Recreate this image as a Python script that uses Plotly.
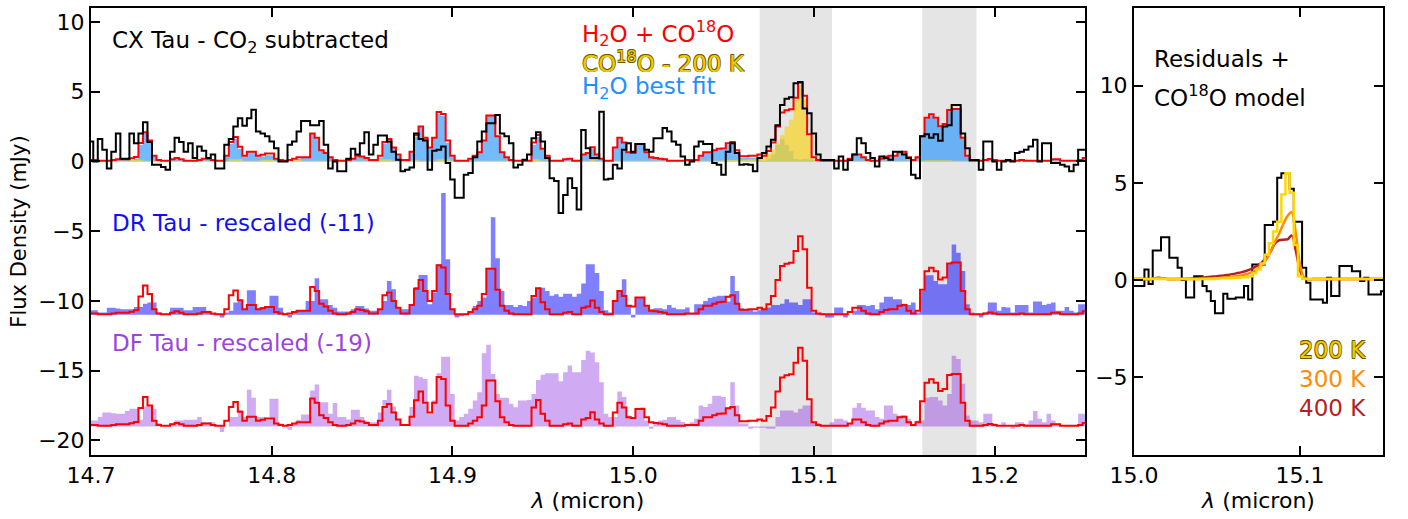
import numpy as np
import plotly.graph_objects as go

# ---------------- data ----------------
# wavelength grid of the spectra (micron)
wavelength = np.round(14.7 + 0.0025 * np.arange(221), 5)

# CX Tau, CO2 subtracted (mJy)
cx_tau = [
    1.43, 0.0, 1.6, 0.83, -0.5, 0.7, 2.0, 0.2, 0.2, 2.0,
    1.3, 2.0, 2.8, 1.4, -0.24, -0.24, -0.4, -0.6, 0.7, 1.7,
    1.4, 0.7, 1.3, 0.24, 1.07, 0.76, 0.24, 0.5, -0.5, -0.5,
    1.2, 1.6, 2.5, 3.1, 2.55, 3.1, 3.7, 2.14, 2.0, 1.8,
    1.43, 0.95, 0.0, 0.0, 1.2, 1.43, 2.14, 2.9, 2.9, 2.6,
    2.6, 2.9, 1.2, -0.5, 0.0, -0.7, -0.7, 0.2, 0.9, 0.5,
    1.3, 2.1, 0.5, 1.2, 1.86, 1.86, 1.43, 0.7, 0.12, -0.7,
    -0.6, -0.43, 2.0, 1.6, 1.5, -0.6, 0.76, 0.83, 1.07, -0.12,
    -1.3, -2.6, -2.6, -0.95, -0.83, 0.3, 1.43, 2.14, 2.74, 2.74,
    3.33, 2.0, 1.8, 1.3, -0.43, -0.24, 0.12, 0.5, 1.67, 2.1,
    1.43, 0.24, -1.2, -1.4, -3.7, -2.4, -1.2, -1.9, -3.45, 2.26,
    0.95, 0.24, 0.24, 3.57, -1.3, -1.24, -0.24, -0.5, 0.83, 1.3,
    0.7, 1.24, 1.24, 0.83, 0.7, 1.67, 1.67, 2.4, 2.14, 1.43,
    1.2, 0.36, -0.24, 0.0, 1.07, 1.43, 1.24, 1.24, -0.12, -0.24,
    -0.95, 0.7, 1.3, 0.6, -0.24, -0.2, -0.24, -0.7, 0.24, 0.6,
    1.07, 1.55, 2.6, 4.05, 4.5, 4.6, 5.6, 5.7, 3.8, 3.45,
    2.0, 0.5, 0.1, 0.1, 0.1, -0.5, 0.36, -0.6, 0.1, 0.5,
    1.67, 1.3, 0.6, 0.24, -0.36, 0.36, 0.24, 0.12, 0.7, 0.7,
    0.5, 0.24, -0.95, -1.2, 1.8, 1.95, 1.7, 1.95, 1.48, 2.5,
    2.6, 4.05, 4.05, 2.0, 0.95, 0.1, 0.1, -0.6, 1.43, 1.43,
    0.0, -0.6, 0.0, 0.1, 0.0, 0.6, 0.7, 0.83, 1.07, 1.55,
    0.0, 1.3, 1.3, -0.12, -0.12, -0.24, -0.36, -0.7, -0.24, 0.83, 0.83,
]

# H2O best-fit slab model (mJy)
h2o_model = [
    0.05, 0.05, 0.0, 0.0, 0.0, 0.05, 0.1, 0.1, 0.1, 0.1,
    0.2, 1.2, 2.05, 1.45, 0.35, 0.05, 0.0, 0.0, 0.1, 0.2,
    0.1, 0.0, 0.0, 0.0, 0.05, 0.15, 0.15, 0.05, 0.0, 0.0,
    0.35, 1.25, 1.6, 0.9, 0.35, 0.65, 0.65, 0.35, 0.35, 0.45,
    0.45, 0.15, 0.05, 0.0, 0.0, 0.1, 0.2, 0.25, 0.25, 1.95,
    1.65, 0.75, 0.55, 0.25, 0.05, 0.0, 0.0, 0.05, 0.15, 0.35,
    0.3, 0.2, 0.05, 0.05, 0.25, 1.25, 1.45, 0.95, 0.45, 0.05,
    0.05, 0.65, 1.75, 2.45, 1.65, 0.95, 1.65, 3.4, 3.25, 1.35,
    0.35, 0.0, 0.0, 0.0, 0.15, 0.35, 0.6, 1.45, 3.25, 3.25,
    1.75, 0.6, 0.25, 0.05, 0.0, 0.0, 0.0, 0.0, 1.2, 1.75,
    0.85, 0.35, 0.0, 0.0, 0.0, 0.1, 0.15, 0.0, 0.0, 0.45,
    0.55, 0.9, 0.45, 0.15, 0.0, 0.0, 0.95, 1.65, 1.3, 0.6,
    0.55, 1.2, 1.2, 0.6, 0.25, 0.2, 0.15, 0.1, 0.0, 0.0,
    0.0, 0.0, 0.05, 0.05, 0.05, 0.35, 0.6, 0.6, 0.75, 0.85,
    0.85, 1.2, 1.3, 0.7, 0.25, 0.25, 0.25, 0.25, 0.3, 0.05,
    0.2, 0.5, 1.2, 1.6, 1.17, 0.74, 0.17, 0.14, 0.2, 0.15,
    0.1, 0.05, 0.0, 0.0, 0.0, 0.0, 0.0, 0.0, 0.15, 0.45,
    0.45, 0.25, 0.05, 0.0, 0.0, 0.15, 0.3, 0.35, 0.35, 0.6,
    0.65, 0.25, 0.05, 0.25, 1.75, 3.05, 3.3, 3.05, 2.45, 2.6,
    3.6, 3.7, 3.7, 1.65, 0.35, 0.0, 0.0, 0.0, 0.05, 0.12,
    0.05, 0.0, 0.0, 0.0, 0.0, 0.0, 0.05, 0.0, 0.0, 0.0,
    0.0, 0.0, 0.0, 0.1, 0.1, 0.0, 0.0, 0.0, 0.0, 0.05, 0.2,
]

# CO18O slab model, 200 K (mJy)
co18o_200K = [
    0.05, 0.05, 0.05, 0.05, 0.05, 0.05, 0.05, 0.05, 0.05, 0.12,
    0.12, 0.12, 0.05, 0.05, 0.05, 0.05, 0.05, 0.05, 0.05, 0.05,
    0.05, 0.05, 0.05, 0.05, 0.05, 0.05, 0.05, 0.05, 0.05, 0.05,
    0.05, 0.15, 0.15, 0.15, 0.05, 0.05, 0.05, 0.05, 0.12, 0.12,
    0.12, 0.05, 0.05, 0.05, 0.1, 0.1, 0.1, 0.05, 0.05, 0.05,
    0.05, 0.05, 0.05, 0.05, 0.05, 0.05, 0.05, 0.05, 0.05, 0.05,
    0.05, 0.05, 0.05, 0.05, 0.15, 0.15, 0.15, 0.05, 0.05, 0.05,
    0.05, 0.05, 0.12, 0.05, 0.05, 0.05, 0.05, 0.15, 0.15, 0.15,
    0.05, 0.05, 0.05, 0.05, 0.05, 0.05, 0.05, 0.05, 0.05, 0.05,
    0.05, 0.05, 0.05, 0.05, 0.05, 0.05, 0.05, 0.05, 0.15, 0.15,
    0.05, 0.05, 0.05, 0.05, 0.05, 0.05, 0.05, 0.05, 0.05, 0.05,
    0.05, 0.12, 0.05, 0.05, 0.05, 0.05, 0.05, 0.05, 0.05, 0.05,
    0.05, 0.05, 0.05, 0.05, 0.05, 0.05, 0.05, 0.05, 0.05, 0.05,
    0.05, 0.05, 0.05, 0.05, 0.05, 0.05, 0.05, 0.05, 0.05, 0.05,
    0.08, 0.1, 0.1, 0.1, 0.12, 0.12, 0.15, 0.15, 0.2, 0.35,
    0.55, 0.85, 1.3, 1.9, 2.5, 3.0, 4.4, 5.5, 4.5, 1.8,
    0.2, 0.05, 0.05, 0.05, 0.05, 0.05, 0.05, 0.05, 0.05, 0.05,
    0.05, 0.05, 0.05, 0.05, 0.05, 0.05, 0.05, 0.05, 0.05, 0.05,
    0.05, 0.05, 0.05, 0.05, 0.05, 0.08, 0.08, 0.08, 0.08, 0.08,
    0.08, 0.05, 0.05, 0.05, 0.05, 0.05, 0.05, 0.05, 0.05, 0.05,
    0.05, 0.05, 0.05, 0.05, 0.05, 0.05, 0.05, 0.05, 0.05, 0.05,
    0.05, 0.05, 0.05, 0.05, 0.05, 0.05, 0.05, 0.05, 0.05, 0.05, 0.05,
]

# DR Tau spectrum, rescaled (mJy, before the -11 offset)
dr_tau = [
    0.33, 0.33, 0.17, 0.17, 0.5, 0.5, 0.45, 0.4, 0.4, 0.4,
    0.57, 0.57, 0.8, 0.88, 0.88, 0.17, 0.1, 0.1, 0.5, 0.5,
    0.5, 0.33, 0.33, 0.57, 0.57, 0.57, 0.3, 0.1, 0.1, -0.2,
    0.17, 0.3, 0.88, 1.0, 0.4, 1.76, 1.76, 0.4, 0.57, 0.57,
    1.36, 1.36, 0.5, 0.1, -0.2, 0.2, 0.3, 0.3, 1.0, 1.0,
    2.62, 1.12, 1.12, 0.7, 0.5, 0.24, 0.24, 0.24, 0.4, 0.64,
    0.64, 0.45, 0.3, 0.3, 0.4, 1.0, 2.43, 1.83, 0.5, 0.4,
    0.4, 0.64, 2.0, 2.86, 2.86, 0.76, 1.6, 3.62, 8.74, 3.98,
    0.4, -0.2, -0.1, 0.1, 0.17, 0.64, 1.0, 1.24, 3.38, 7.0,
    4.05, 1.7, 0.7, 0.7, 0.57, 0.7, 0.64, 1.0, 1.24, 1.95,
    1.95, 1.7, 1.36, 1.48, 1.3, 1.52, 1.52, 1.29, 1.52, 2.24,
    3.62, 3.62, 3.0, 1.7, 0.33, 0.17, 1.0, 1.7, 2.55, 0.64,
    -0.2, 1.24, 1.24, 0.64, 0.4, 0.48, 0.48, 0.4, 0.7, 0.5,
    0.4, 0.4, 0.52, 0.1, 0.76, 0.76, 1.0, 1.2, 1.29, 1.36,
    1.36, 0.95, 2.79, 1.7, 0.48, 0.4, 0.4, 0.24, 0.33, 0.4,
    0.52, 0.7, 0.7, 0.8, 1.12, 0.88, 0.88, 0.7, 1.12, 1.12,
    0.17, 0.1, 0.1, -0.2, -0.2, 0.52, 0.52, -0.2, 0.0, 0.3,
    0.7, 0.7, 0.64, 0.7, 0.4, 0.88, 1.29, 1.29, 1.12, 1.12,
    0.8, 0.7, 0.88, 0.17, 1.7, 2.83, 2.83, 2.43, 2.19, 2.19,
    3.62, 5.05, 4.45, 3.14, 0.76, 0.17, 0.1, -0.2, 0.17, 0.88,
    0.88, 0.3, 0.57, 0.52, 0.17, 0.7, 0.7, 0.7, 0.17, 0.95,
    0.95, 0.7, 0.8, 0.88, 0.3, 0.3, 0.57, 0.3, 0.17, 0.76, 0.76,
]

# DF Tau spectrum, rescaled (mJy, before the -19 offset)
df_tau = [
    0.43, 0.43, 0.67, 1.0, 1.0, 0.95, 0.9, 0.9, 1.1, 1.26,
    1.26, 0.48, 1.43, 1.43, 1.26, 0.24, 0.0, 0.0, 0.2, 0.43,
    0.43, 0.48, 0.48, 0.48, 0.67, 0.3, 0.3, 0.3, 0.0, -0.4,
    0.0, 0.67, 0.67, 1.19, 0.67, 2.62, 2.05, 0.67, 0.67, 0.48,
    1.98, 1.98, 0.2, 0.0, -0.24, 0.2, 0.48, 0.86, 0.86, 2.57,
    3.0, 1.74, 1.74, 0.9, 1.67, 0.67, 0.67, 0.5, 1.19, 1.19,
    0.67, 0.4, 0.3, 0.3, 1.0, 1.9, 2.62, 1.43, 0.48, 0.0,
    0.0, 1.4, 3.64, 3.52, 3.4, 0.9, 1.86, 3.81, 5.0, 5.0,
    2.33, 0.43, 0.67, 0.9, 1.26, 1.86, 2.45, 5.24, 5.86, 3.76,
    2.33, 2.05, 2.05, 1.62, 1.38, 1.86, 1.86, 1.9, 2.33, 3.33,
    3.71, 3.81, 3.81, 3.81, 3.24, 3.88, 4.36, 3.88, 3.88, 4.76,
    5.43, 5.3, 4.6, 3.17, 0.9, 0.67, 0.67, 2.5, 2.1, 0.79,
    0.67, 1.26, 1.38, 0.43, -0.17, 0.2, 0.43, 0.48, 0.67, 0.67,
    0.48, 0.31, 0.19, 0.3, 0.55, 1.5, 1.4, 1.62, 2.2, 2.2,
    2.1, 1.38, 3.17, 1.5, 0.2, 0.2, -0.17, -0.1, -0.1, -0.1,
    -0.17, -0.17, 0.67, 1.14, 1.14, 1.14, 1.0, 1.26, 1.5, 1.5,
    0.24, 0.24, 0.1, 0.1, 0.3, 0.55, 0.55, 0.43, 0.2, 1.33,
    1.67, 1.33, 1.14, 1.14, 0.67, 0.55, 1.5, 1.5, 0.9, 0.79,
    0.79, 0.55, 0.1, 0.43, 0.43, 2.05, 2.1, 2.1, 1.86, 1.5,
    2.33, 5.07, 4.83, 3.05, 0.79, 0.43, 0.43, 0.3, 0.9, 0.9,
    0.2, 0.0, 0.3, 0.0, -0.17, 0.3, 0.3, 0.15, 0.43, 1.1,
    0.55, 0.3, 0.9, 0.43, 0.2, 0.0, -0.05, -0.05, -0.05, 0.9, 0.9,
]

dr_offset = -11
df_offset = -19
shaded_bands = [(15.07, 15.11), (15.16, 15.19)]

# right panel: residuals + CO18O models, 15.0 - 15.15 micron
res_wavelength = np.round(15.0 + 0.0025 * np.arange(61), 5)
residuals = [
    -0.3, -0.3, -0.3, 0.55, -0.2, 1.52, 1.52, 2.2, 2.2, 1.15,
    1.15, 0.63, 0.0, -0.9, -0.9, 0.2, 0.2, -0.3, -0.57, -1.08,
    -1.71, -1.71, -0.7, -0.96, -0.96, -0.9, -0.9, -0.3, -1.0, 0.8,
    0.8, 0.8, 2.83, 2.83, 3.0, 5.26, 5.5, 5.5, 4.7, 3.0,
    3.0, 0.63, -0.14, -1.0, -1.0, -1.0, -1.16, 0.12, -0.82, -0.82,
    0.72, 0.72, 0.72, 0.46, 0.46, -0.05, 0.12, -0.74, -0.74, -0.74, -0.57,
]
model_300K = [
    0.05, 0.05, 0.05, 0.05, 0.05, 0.1, 0.12, 0.08, 0.05, 0.05,
    0.05, 0.06, 0.05, 0.05, 0.05, 0.05, 0.06, 0.07, 0.08, 0.09,
    0.1, 0.12, 0.14, 0.16, 0.18, 0.21, 0.25, 0.3, 0.37, 0.46,
    0.6, 0.8, 1.1, 1.5, 2.0, 2.4, 2.9, 3.3, 3.5, 2.4,
    0.8, 0.12, 0.05, 0.05, 0.05, 0.05, 0.05, 0.05, 0.05, 0.05,
    0.05, 0.05, 0.05, 0.05, 0.05, 0.05, 0.05, 0.05, 0.05, 0.05, 0.05,
]
model_400K = [
    0.05, 0.05, 0.05, 0.05, 0.05, 0.1, 0.12, 0.08, 0.06, 0.06,
    0.06, 0.06, 0.06, 0.07, 0.08, 0.1, 0.12, 0.14, 0.16, 0.18,
    0.2, 0.22, 0.25, 0.28, 0.32, 0.36, 0.41, 0.47, 0.55, 0.65,
    0.78, 0.95, 1.2, 1.5, 1.9, 2.05, 2.08, 2.1, 2.3, 1.5,
    0.5, 0.1, 0.05, 0.05, 0.05, 0.05, 0.05, 0.05, 0.05, 0.05,
    0.05, 0.05, 0.05, 0.05, 0.05, 0.05, 0.05, 0.05, 0.05, 0.05, 0.05,
]

# ---------------- figure ----------------
h2o = np.array(h2o_model)
co = np.array(co18o_200K)
total_model = h2o + co
dr = np.array(dr_tau) + dr_offset
df = np.array(df_tau) + df_offset

FONT = "DejaVu Sans"
TICK_SIZE = 22
TITLE_SIZE = 22
LABEL_SIZE = 23

fig = go.Figure()

def step_line(x, y, color, width=2, xa="x", ya="y", shape="hvh"):
    return go.Scatter(x=x, y=y, mode="lines", xaxis=xa, yaxis=ya,
                      line=dict(color=color, width=width, shape=shape),
                      hoverinfo="skip", showlegend=False)

def filled(x, y, base, fillcolor):
    base_tr = go.Scatter(x=x, y=[base] * len(x), mode="lines",
                         line=dict(width=0, shape="hvh", color="rgba(0,0,0,0)"),
                         hoverinfo="skip", showlegend=False)
    fill_tr = go.Scatter(x=x, y=y, mode="lines", fill="tonexty", fillcolor=fillcolor,
                         line=dict(width=0, shape="hvh", color="rgba(0,0,0,0)"),
                         hoverinfo="skip", showlegend=False)
    return [base_tr, fill_tr]

for tr in filled(wavelength, df, df_offset, "rgba(138,43,226,0.4)"):
    fig.add_trace(tr)
for tr in filled(wavelength, dr, dr_offset, "rgba(0,0,255,0.5)"):
    fig.add_trace(tr)
for tr in filled(wavelength, h2o, 0, "rgba(30,144,255,0.62)"):
    fig.add_trace(tr)
for tr in filled(wavelength, co, 0, "rgba(245,212,45,0.75)"):
    fig.add_trace(tr)

fig.add_trace(step_line(wavelength, total_model + df_offset, "#ff0000"))
fig.add_trace(step_line(wavelength, total_model + dr_offset, "#ff0000"))
fig.add_trace(step_line(wavelength, total_model, "#ff0000"))
fig.add_trace(step_line(wavelength, cx_tau, "black"))

# right panel
co_slice = co[120:181]
fig.add_trace(step_line(res_wavelength, residuals, "black", xa="x2", ya="y2"))
fig.add_trace(step_line(res_wavelength, model_400K, "#b22222", width=2.5, xa="x2", ya="y2", shape="spline"))
fig.add_trace(step_line(res_wavelength, model_300K, "#ff8c00", width=2.5, xa="x2", ya="y2", shape="spline"))
fig.add_trace(step_line(res_wavelength, co_slice, "#ffd700", width=2.5, xa="x2", ya="y2"))

for lo, hi in shaded_bands:
    fig.add_shape(type="rect", xref="x", yref="y domain", x0=lo, x1=hi, y0=0, y1=1,
                  fillcolor="#e5e5e5", line=dict(width=0), layer="below")

axis_common = dict(showline=True, linecolor="black", linewidth=2, mirror="allticks",
                   ticks="inside", ticklen=9, tickwidth=1.5, tickcolor="black",
                   showgrid=False, zeroline=False,
                   tickfont=dict(family=FONT, size=TICK_SIZE, color="black"))

fig.update_layout(
    width=1408, height=519,
    margin=dict(l=91, r=25, t=6, b=64),
    plot_bgcolor="white", paper_bgcolor="white",
    showlegend=False,
    font=dict(family=FONT, size=TICK_SIZE, color="black"),
    xaxis=dict(domain=[0, 0.7693], range=[14.7, 15.25], anchor="y",
               tickvals=[14.7, 14.8, 14.9, 15.0, 15.1, 15.2],
               ticktext=["14.7", "14.8", "14.9", "15.0", "15.1", "15.2"],
               title=dict(text="<i>λ</i> (micron)", standoff=4,
                          font=dict(family=FONT, size=TITLE_SIZE)),
               **axis_common),
    yaxis=dict(range=[-21.05, 11.0], anchor="x",
               tickvals=[-20, -15, -10, -5, 0, 5, 10],
               title=dict(text="Flux Density (mJy)", standoff=6,
                          font=dict(family=FONT, size=21)),
               **axis_common),
    xaxis2=dict(domain=[0.8073, 1.0], range=[15.0, 15.15], anchor="y2",
                tickvals=[15.0, 15.1], ticktext=["15.0", "15.1"],
                title=dict(text="<i>λ</i> (micron)", standoff=4,
                           font=dict(family=FONT, size=TITLE_SIZE)),
                **axis_common),
    yaxis2=dict(range=[-9.0, 14.0], anchor="x2",
                tickvals=[-5, 0, 5, 10],
                **axis_common),
)

gold_outline = "0.6px 0.6px 0 #6b5800, -0.6px -0.6px 0 #6b5800, 0.6px -0.6px 0 #6b5800, -0.6px 0.6px 0 #6b5800"

def note(x, y, text, color="black", xa="x", ya="y", anchor="left", shadow=None, size=LABEL_SIZE):
    f = dict(family=FONT, size=size, color=color)
    if shadow:
        f["shadow"] = shadow
    fig.add_annotation(x=x, y=y, xref=xa, yref=ya, text=text, showarrow=False,
                       xanchor=anchor, yanchor="middle", font=f)

note(14.7105, 8.57, "CX Tau - CO<sub>2</sub> subtracted")
note(14.9706, 9.2, "H<sub>2</sub>O + CO<sup>18</sup>O", color="#ff0000")
note(14.9706, 7.15, "CO<sup>18</sup>O - 200 K", color="#f2c800", shadow=gold_outline)
note(14.9706, 5.3, "H<sub>2</sub>O best fit", color="#1e90ff")
note(14.7105, -4.43, "DR Tau - rescaled (-11)", color="#1010f0")
note(14.7105, -13.0, "DF Tau - rescaled (-19)", color="#9b45e0")

note(15.011, 11.4, "Residuals +", xa="x2", ya="y2")
note(15.011, 9.45, "CO<sup>18</sup>O model", xa="x2", ya="y2")
note(15.1412, -3.6, "200 K", color="#f2c800", xa="x2", ya="y2", anchor="right", shadow=gold_outline)
note(15.1412, -5.1, "300 K", color="#ff8c00", xa="x2", ya="y2", anchor="right")
note(15.1412, -6.6, "400 K", color="#b22222", xa="x2", ya="y2", anchor="right")

fig.write_html("out.html")
